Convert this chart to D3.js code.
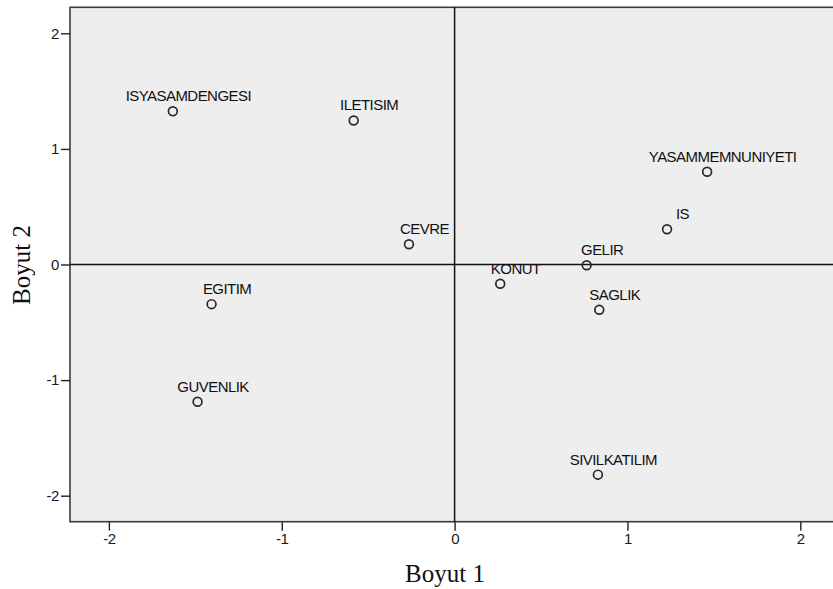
<!DOCTYPE html>
<html>
<head>
<meta charset="utf-8">
<script src="https://cdn.jsdelivr.net/npm/d3@7/dist/d3.min.js"></script>
<style>
  html, body { margin: 0; padding: 0; background: #fff; overflow: hidden; }
  svg { display: block; }
</style>
</head>
<body>
<svg id="chart" width="833" height="589"></svg>
<script>
const categories = ["ISYASAMDENGESI", "ILETISIM", "CEVRE", "KONUT", "GELIR", "SAGLIK", "IS", "YASAMMEMNUNIYETI", "EGITIM", "GUVENLIK", "SIVILKATILIM"];
const dim1Values = [-1.630, -0.584, -0.264, 0.264, 0.764, 0.837, 1.229, 1.461, -1.406, -1.487, 0.829];
const dim2Values = [1.325, 1.246, 0.175, -0.166, -0.006, -0.391, 0.305, 0.803, -0.343, -1.187, -1.818];
const xTickValues = [-2, -1, 0, 1, 2];
const yTickValues = [-2, -1, 0, 1, 2];
const xTitle = "Boyut 1";
const yTitle = "Boyut 2";

const svg = d3.select("#chart");
const plotLeft = 70, plotTop = 7.3, plotW = 769.2, plotH = 514.4;
const sans = "'Liberation Sans', Arial, sans-serif";

const x = d3.scaleLinear().domain([-2.225, 2.225]).range([plotLeft, plotLeft + plotW]);
const y = d3.scaleLinear().domain([-2.225, 2.225]).range([plotTop + plotH, plotTop]);

// plot background
svg.append("rect")
  .attr("x", plotLeft).attr("y", plotTop).attr("width", plotW).attr("height", plotH)
  .attr("fill", "#eeeeee").attr("stroke", "#3a3a3a").attr("stroke-width", 1.6);

// zero reference lines
svg.append("line")
  .attr("x1", x(0)).attr("x2", x(0)).attr("y1", plotTop).attr("y2", plotTop + plotH)
  .attr("stroke", "#111").attr("stroke-width", 1.5);
svg.append("line")
  .attr("x1", plotLeft).attr("x2", plotLeft + plotW).attr("y1", y(0)).attr("y2", y(0))
  .attr("stroke", "#111").attr("stroke-width", 1.5);

// axes
const fmt = d => String(d);
const xAxis = svg.append("g")
  .attr("transform", `translate(0,${plotTop + plotH})`)
  .call(d3.axisBottom(x).tickValues(xTickValues).tickSize(9).tickPadding(3).tickFormat(fmt));
const yAxis = svg.append("g")
  .attr("transform", `translate(${plotLeft},0)`)
  .call(d3.axisLeft(y).tickValues(yTickValues).tickSize(9).tickPadding(2).tickFormat(fmt));
[xAxis, yAxis].forEach(g => {
  g.select(".domain").remove();
  g.selectAll(".tick line").attr("stroke", "#222").attr("stroke-width", 1.4);
  g.selectAll(".tick text").attr("fill", "#1a1a1a").style("font-family", sans)
    .style("font-size", "15px").style("letter-spacing", "-0.4px");
});

// points
const data = categories.map((c, i) => ({ name: c, d1: dim1Values[i], d2: dim2Values[i] }));
const pts = svg.append("g");
pts.selectAll("circle").data(data).join("circle")
  .attr("cx", d => x(d.d1)).attr("cy", d => y(d.d2)).attr("r", 4.4)
  .attr("fill", "none").attr("stroke", "#2a2a2a").attr("stroke-width", 1.7);
pts.selectAll("text").data(data).join("text")
  .attr("x", d => x(d.d1) + 15.5).attr("y", d => y(d.d2) - 10)
  .attr("text-anchor", "middle")
  .style("font-family", sans).style("font-size", "15px").style("letter-spacing", "-0.55px")
  .attr("fill", "#111")
  .text(d => d.name);

// axis titles
svg.append("text")
  .attr("x", 445).attr("y", 582)
  .attr("text-anchor", "middle")
  .style("font-family", "'Liberation Serif', 'Times New Roman', serif").style("font-size", "25px")
  .attr("fill", "#111").text(xTitle);
svg.append("text")
  .attr("transform", `translate(30,265) rotate(-90)`)
  .attr("text-anchor", "middle")
  .style("font-family", "'Liberation Serif', 'Times New Roman', serif").style("font-size", "25px")
  .attr("fill", "#111").text(yTitle);
</script>
</body>
</html>
